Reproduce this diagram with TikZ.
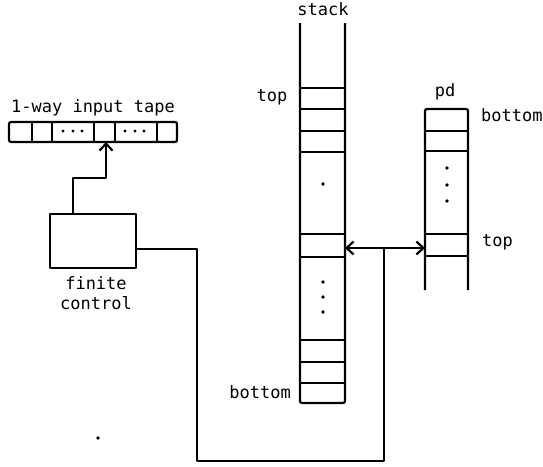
\documentclass[tikz,border=0pt]{standalone}
\usepackage{fontspec}
\setmonofont{DejaVu Sans Mono}
\usetikzlibrary{arrows.meta}
\tikzset{
  ln/.style={line width=2.2pt, line join=round},
  lbl/.style={font=\ttfamily\fontsize{17}{20}\selectfont, inner sep=0pt},
  tip/.style={-{Straight Barb[length=7pt,width=13pt,line width=2.2pt]}},
  dtip/.style={{Straight Barb[length=7pt,width=13pt,line width=2.2pt]}-{Straight Barb[length=7pt,width=13pt,line width=2.2pt]}},
  dotm/.style={circle, fill=black, inner sep=0pt, minimum size=3.6pt}
}
\begin{document}
\begin{tikzpicture}[x=1pt,y=-1pt]
\useasboundingbox (0,0) rectangle (543,466);

% ---- input tape ----
\node[lbl] (tapelbl) at (93,108) {1-way input tape};
\draw[ln, rounded corners=2pt] (9,122) rectangle (177,142);
\foreach \x in {32,52,94,115,157} \draw[ln] (\x,122) -- (\x,142);
\coordinate (tapecell) at (106,142);
\foreach \x in {63,73,82,125,135,144} \node[dotm, minimum size=3.2pt] at (\x,131) {};

% ---- finite control ----
\node[draw, ln, minimum width=86pt, minimum height=54pt, inner sep=0pt] (ctrl) at (93,241) {};
\node[lbl, align=center] (ctrllbl) at (96,293) {finite\\control};
\coordinate (c1) at (73,178);
\draw[ln, tip] (ctrl.north -| c1) -- (c1) -- (c1 -| tapecell) -- (tapecell);

% ---- stack ----
\node[lbl] (stacklbl) at (323,9) {stack};
\draw[ln, rounded corners=2pt] (300,23) -- (300,403) -- (345,403) -- (345,23);
\foreach \y in {88,109,131,152,234,257,340,362,383} \draw[ln] (300,\y) -- (345,\y);
\node[lbl] (stacktop) at (272,97) {top};
\node[lbl, anchor=east] (stackbot) at (291,392) {bottom};
\node[dotm] at (323,184) {};
\foreach \y in {282,297,312} \node[dotm] at (323,\y) {};
\coordinate (stackR) at (345,248);

% ---- pd ----
\node[lbl] (pdlbl) at (445,92) {pd};
\draw[ln, rounded corners=2pt] (425,290) -- (425,109) -- (468,109) -- (468,290);
\foreach \y in {131,151,234,256} \draw[ln] (425,\y) -- (468,\y);
\node[lbl, anchor=west] (pdbot) at (481,115) {bottom};
\node[lbl, anchor=west] (pdtop) at (482,242) {top};
\foreach \y in {168,185,201} \node[dotm] at (447,\y) {};
\coordinate (pdL) at (425,248);

% ---- connections ----
\draw[ln, dtip] (stackR) -- (pdL);
\coordinate (j) at (384,248);
\coordinate (b1) at (384,461);
\coordinate (b2) at (197,461);
\coordinate (b3) at (197,249);
\draw[ln] (j) -- (b1) -- (b2) -- (b3) -- (b3 -| ctrl.east);

% stray dot
\node[dotm] (stray) at (98,438) {};
\end{tikzpicture}
\end{document}
